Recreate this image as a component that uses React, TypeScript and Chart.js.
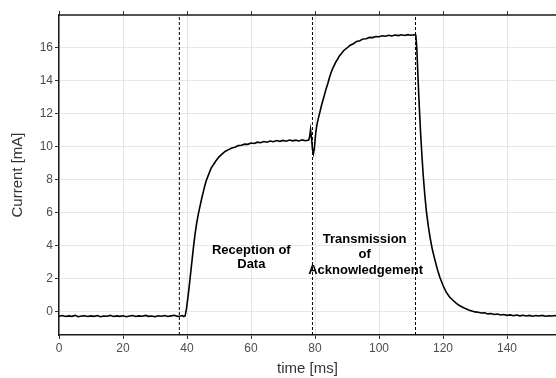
import React, { useEffect, useRef } from "react";
import { Chart, registerables } from "chart.js";

Chart.register(...registerables);

// time axis [ms]
const timeMs: number[] = [
  0, 1, 2, 3, 4, 5, 6, 7, 8, 9, 10, 11, 12, 13, 14, 15, 16, 17, 18, 19,
  20, 21, 22, 23, 24, 25, 26, 27, 28, 29, 30, 31, 32, 33, 34, 35, 36, 37, 38, 38.5, 39, 39.4,
  39.8, 40.2, 40.6, 41, 41.5, 42, 42.5, 43, 43.5, 44, 44.5, 45, 45.5, 46, 46.5, 47, 47.5, 48, 48.5, 49,
  50, 51, 52, 53, 54, 55, 56, 57, 58, 59, 60, 61, 62, 63, 64, 65, 66, 67, 68, 69,
  70, 71, 72, 73, 74, 75, 76, 77, 78,
  78.3, 78.6, 78.9, 79.2, 79.5, 79.8, 80.2, 80.6, 81, 81.5, 82, 82.5, 83, 83.5, 84, 84.5, 85, 85.5,
  86, 86.5, 87, 87.5, 88, 89, 90, 91, 92, 93, 94, 95, 96, 97, 98, 99, 100,
  101, 102, 103, 104, 105, 106, 107, 108, 109, 110, 111, 111.5,
  111.8, 112.1, 112.4, 112.7, 113, 113.4, 113.8, 114.3, 114.8, 115.4, 116, 116.7, 117.4, 118.2, 119,
  120, 121, 122, 123, 124, 125, 126, 127, 128, 129, 130, 131, 132, 133, 134, 135, 136, 137, 138, 139,
  140, 141, 142, 143, 144, 145, 146, 147, 148, 149, 150, 151, 152, 153, 154, 155, 156,
];

// measured current [mA]
const currentMA: number[] = [
  -0.26, -0.22, -0.28, -0.24, -0.27, -0.21, -0.29, -0.25, -0.23, -0.28,
  -0.24, -0.27, -0.22, -0.29, -0.25, -0.26, -0.21, -0.28, -0.24, -0.27,
  -0.23, -0.29, -0.25, -0.22, -0.28, -0.24, -0.26, -0.21, -0.27, -0.25,
  -0.29, -0.23, -0.26, -0.22, -0.28, -0.24, -0.2, -0.27, -0.25, -0.22, -0.28, -0.25,
  0.15, 0.75, 1.4, 2.1, 3.0, 3.9, 4.7, 5.35, 5.9, 6.35, 6.8, 7.2, 7.6, 7.95, 8.2, 8.45, 8.7, 8.85, 9.0, 9.15,
  9.4, 9.58, 9.74, 9.84, 9.94, 9.98, 10.08, 10.1, 10.17, 10.16, 10.24, 10.21, 10.29, 10.26, 10.33, 10.29, 10.36, 10.32, 10.39, 10.34,
  10.4, 10.35, 10.42, 10.37, 10.41, 10.36, 10.43, 10.38, 10.42,
  10.6, 11.05, 10.55, 9.85, 9.6, 9.95, 10.8, 11.35, 11.7, 12.1, 12.5, 12.85, 13.2, 13.55, 13.85, 14.2, 14.5, 14.75,
  14.95, 15.15, 15.3, 15.48, 15.6, 15.85, 16.0, 16.17, 16.26, 16.4, 16.44, 16.55, 16.56, 16.64, 16.63, 16.7, 16.68,
  16.74, 16.71, 16.77, 16.73, 16.79, 16.75, 16.8, 16.76, 16.81, 16.77, 16.8, 16.78,
  16.0, 14.6, 13.2, 12.0, 10.8, 9.5, 8.3, 7.1, 6.1, 5.2, 4.45, 3.75, 3.2, 2.6, 2.1,
  1.6, 1.2, 0.92, 0.72, 0.55, 0.4, 0.3, 0.2, 0.12, 0.06, 0.0, -0.02, -0.07, -0.05, -0.12, -0.1, -0.16, -0.13, -0.19, -0.16,
  -0.21, -0.18, -0.23, -0.19, -0.24, -0.2, -0.25, -0.21, -0.26, -0.22, -0.25, -0.21, -0.26, -0.23, -0.25, -0.22, -0.25,
];

// phase boundaries [ms]
const markerTimes: number[] = [37.6, 79.2, 111.4];

// axis ticks
const xTicks: number[] = [0, 20, 40, 60, 80, 100, 120, 140];
const yTicks: number[] = [0, 2, 4, 6, 8, 10, 12, 14, 16];

// axis ranges
const xMin = 0;
const xMax = 155.3;
const yMin = -1.4;
const yMax = 18;

// phase annotation text (each line) and anchors in data units
const noteLines: string[] = ["Reception of", "Data", "Transmission", "of", "Acknowledgement"];
const noteX: number[] = [60.1, 60.1, 95.5, 95.5, 95.8];
const noteY: number[] = [3.7, 2.9, 4.38, 3.46, 2.54];

const FONT = '"Liberation Sans", Arial, Helvetica, sans-serif';

const extrasPlugin = {
  id: "extras",
  afterDraw(chart: any) {
    const { ctx, chartArea, scales } = chart;
    ctx.save();
    // top frame line with outward ticks
    ctx.strokeStyle = "#1a1a1a";
    ctx.lineWidth = 1.5;
    ctx.beginPath();
    ctx.moveTo(chartArea.left - 0.75, chartArea.top);
    ctx.lineTo(chartArea.right, chartArea.top);
    ctx.stroke();
    ctx.lineWidth = 1;
    ctx.strokeStyle = "#333";
    ctx.beginPath();
    for (const v of xTicks) {
      const px = Math.round(scales.x.getPixelForValue(v)) + 0.5;
      ctx.moveTo(px, chartArea.top);
      ctx.lineTo(px, chartArea.top - 4);
    }
    ctx.stroke();
    // annotations
    ctx.fillStyle = "#000";
    ctx.font = "bold 13px " + FONT;
    ctx.textAlign = "center";
    ctx.textBaseline = "middle";
    noteLines.forEach((t, i) => {
      ctx.fillText(t, scales.x.getPixelForValue(noteX[i]), scales.y.getPixelForValue(noteY[i]));
    });
    ctx.restore();
  },
};

export default function App() {
  const ref = useRef<HTMLCanvasElement>(null);
  useEffect(() => {
    if (!ref.current) return;
    Chart.defaults.font.family = FONT;
    const mainData = timeMs.map((t, i) => ({ x: t, y: currentMA[i] }));
    const markerSets = markerTimes.map((t) => ({
      type: "line" as const,
      data: [
        { x: t, y: yMin },
        { x: t, y: yMax },
      ],
      borderColor: "#000",
      borderWidth: 1,
      borderDash: [3, 2],
      pointRadius: 0,
      fill: false,
    }));
    const chart = new Chart(ref.current, {
      type: "line",
      data: {
        datasets: [
          ...markerSets,
          {
            data: mainData,
            borderColor: "#000",
            borderWidth: 1.6,
            pointRadius: 0,
            tension: 0,
            fill: false,
          },
        ],
      },
      options: {
        animation: false,
        responsive: false,
        devicePixelRatio: 1,
        layout: { padding: { top: 15, right: 0, left: 0, bottom: 0 } },
        plugins: {
          legend: { display: false },
          tooltip: { enabled: false },
        },
        scales: {
          x: {
            type: "linear",
            min: xMin,
            max: xMax,
            afterBuildTicks: (s: any) => {
              s.ticks = xTicks.map((v) => ({ value: v }));
            },
            afterFit: (s: any) => {
              s.height = 43;
            },
            ticks: {
              color: "#4d4d4d",
              font: { size: 12 },
              padding: 2,
              maxRotation: 0,
            },
            grid: {
              color: "#e6e6e6",
              lineWidth: 1,
              tickColor: "#333",
              tickLength: 4,
            },
            border: { display: true, color: "#1a1a1a", width: 1.5 },
            title: {
              display: true,
              text: "time [ms]",
              color: "#333",
              font: { size: 15 },
              padding: { top: 0, bottom: 0 },
            },
          },
          y: {
            type: "linear",
            min: yMin,
            max: yMax,
            afterBuildTicks: (s: any) => {
              s.ticks = yTicks.map((v) => ({ value: v }));
            },
            afterFit: (s: any) => {
              s.width = 59;
            },
            ticks: {
              color: "#4d4d4d",
              font: { size: 12 },
              padding: 2,
            },
            grid: {
              color: "#e6e6e6",
              lineWidth: 1,
              tickColor: "#333",
              tickLength: 4,
            },
            border: { display: true, color: "#1a1a1a", width: 1.5 },
            title: {
              display: true,
              text: "Current [mA]",
              color: "#333",
              font: { size: 15 },
              padding: { top: 9, bottom: 0 },
            },
          },
        },
      },
      plugins: [extrasPlugin],
    });
    return () => chart.destroy();
  }, []);
  return (
    <div style={{ position: "absolute", left: 0, top: 0, width: 556, height: 378 }}>
      <canvas ref={ref} width={556} height={378} />
    </div>
  );
}
